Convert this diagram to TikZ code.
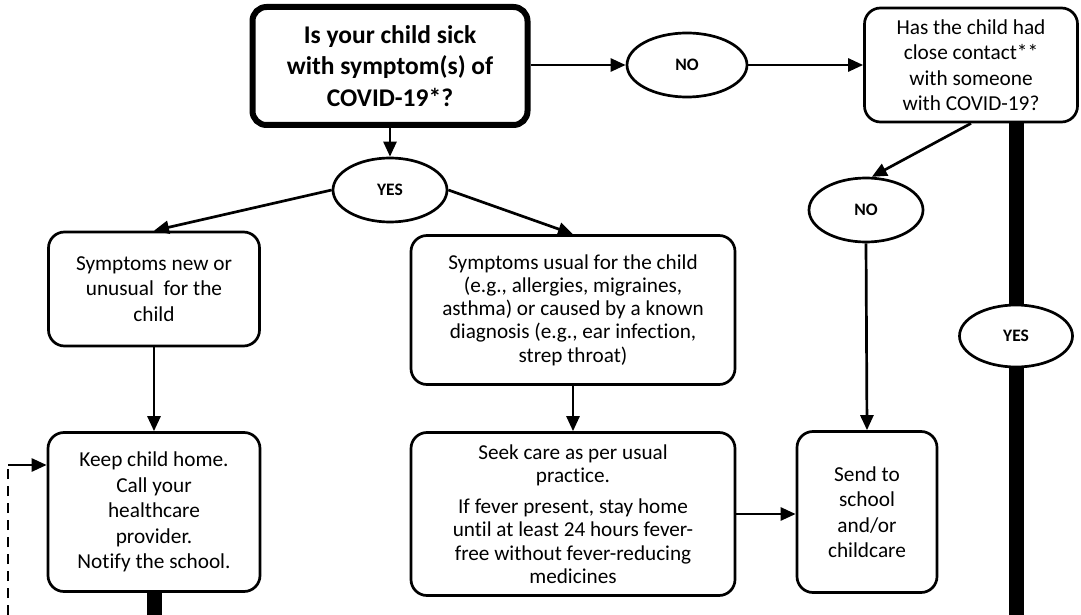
\documentclass[tikz,border=0pt]{standalone}
\usepackage{fontspec}
\setmainfont{Carlito}[Ligatures={NoCommon}]
\usetikzlibrary{arrows.meta,shapes.geometric}
\begin{document}
\begin{tikzpicture}[x=1pt,y=-1pt,
  box/.style={draw, line width=2.7pt, rounded corners=16pt, align=center, inner sep=0pt,
    font=\fontsize{21.3}{25.5}\selectfont},
  midbox/.style={box, font=\fontsize{21.2}{23.3}\selectfont},
  mainbox/.style={draw, line width=6pt, rounded corners=14pt, align=center, inner sep=0pt,
    font=\fontsize{25.5}{31.5}\selectfont\bfseries},
  oval/.style={draw, ellipse, line width=2.7pt, inner sep=0pt, minimum width=114pt, minimum height=64pt,
    font=\fontsize{17.5}{20}\selectfont\bfseries},
  arr/.style={line width=2.7pt, -{Triangle[length=15pt,width=13pt]}},
  bar/.style={line width=15pt},
  dashline/.style={line width=2.7pt, dash pattern=on 10pt off 7pt}
]
\useasboundingbox (0,0) rectangle (1081,615);

\node[mainbox, minimum width=275pt, minimum height=118pt] (main) at (390,66)
  {Is your child sick\\with symptom(s) of\\COVID-19*?};
\node[oval, minimum width=120pt] (no1) at (687,65) {NO};
\node[box, minimum width=213pt, minimum height=114pt] (contact) at (971,65)
  {Has the child had\\close contact**\\with someone\\with COVID-19?};
\node[oval] (yes1) at (390,190) {YES};
\node[box, minimum width=211pt, minimum height=114pt] (new) at (154,289)
  {Symptoms new or\\unusual\ \ for the\\child};
\node[midbox, minimum width=324pt, minimum height=149pt] (usual) at (573,310)
  {Symptoms usual for the child\\(e.g., allergies, migraines,\\asthma) or caused by a known\\diagnosis (e.g., ear infection,\\strep throat)};
\node[box, minimum width=212pt, minimum height=159pt] (keep) at (154,512)
  {Keep child home.\\Call your\\healthcare\\provider.\\Notify the school.};
\node[midbox, minimum width=324pt, minimum height=163pt] (seek) at (573,514)
  {Seek care as per usual\\practice.\\[8pt]If fever present, stay home\\until at least 24 hours fever-\\free without fever-reducing\\medicines};
\node[oval] (no2) at (866,210) {NO};
\node[box, minimum width=140pt, minimum height=161pt] (send) at (867,512)
  {Send to\\school\\and/or\\childcare};
\node[oval, minimum width=113pt, minimum height=62pt] (yes2) at (1016,336) {YES};

\coordinate (bot) at (0,615);
\coordinate (d0) at (8,615);
\coordinate (d1) at (8,465);

\draw[arr] (main.east |- no1.west) -- (no1.west);
\draw[arr] (no1.east) -- (contact.west);
\draw[arr] (main.south) -- (yes1.north);
\draw[arr] (yes1.west) -- (new.north);
\draw[arr] (yes1.east) -- (usual.north);
\draw[arr] (new.south) -- (keep.north);
\draw[arr] (usual.south) -- (seek.north);
\draw[arr] (seek.east) -- (send.west |- seek.east);
\draw[arr] (contact.south) -- (no2.80);
\draw[arr] (no2.south) -- (send.north);

\draw[bar] (contact.south -| yes2.north) -- (yes2.north);
\draw[bar] (yes2.south) -- (yes2.south |- bot);
\draw[bar] (keep.south) -- (keep.south |- bot);

\draw[dashline] (d0) -- (d1);
\draw[arr] (d1) -- (keep.west |- d1);
\end{tikzpicture}
\end{document}
